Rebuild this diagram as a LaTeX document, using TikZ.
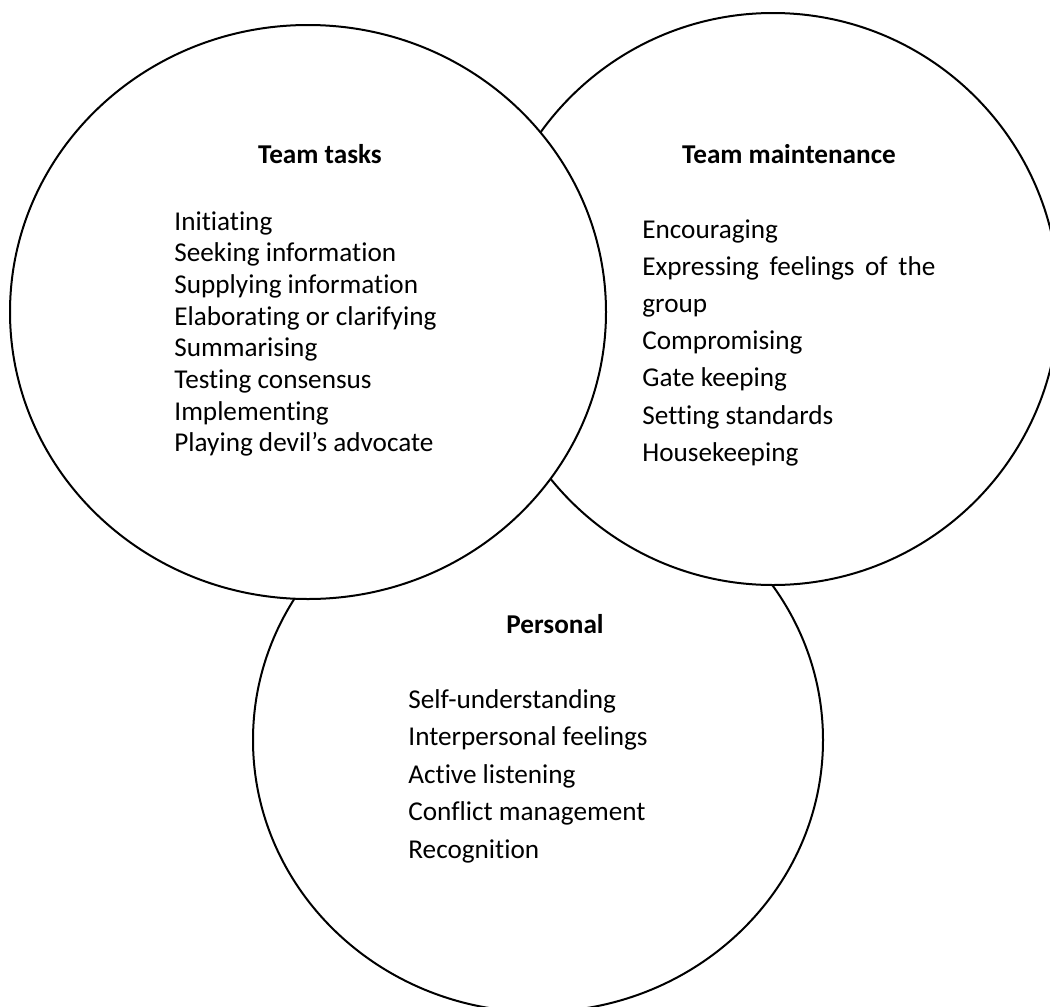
\documentclass[tikz,border=0pt]{standalone}
\usepackage{fontspec}
\setmainfont{Carlito}[Ligatures=NoCommon]
\usetikzlibrary{shapes.geometric}
\begin{document}
\begin{tikzpicture}[x=0.5pt,y=-0.5pt,
  blob/.style={draw=black, fill=white, line width=1pt, ellipse, inner sep=0pt},
  head/.style={anchor=base, inner sep=0pt, font=\fontsize{13.6pt}{16pt}\selectfont\bfseries},
  item/.style={anchor=base west, inner sep=0pt, font=\fontsize{13.6pt}{16pt}\selectfont}]
\useasboundingbox (0,0) rectangle (1050,1007);
\clip (0,0) rectangle (1050,1007);
\fill[white] (0,0) rectangle (1050,1007);

% three overlapping areas, back to front
\node[blob, minimum width=285pt, minimum height=272pt] (personal) at (538,740) {};
\node[blob, minimum width=286pt, minimum height=286pt] (maint) at (773,299) {};
\node[blob, minimum width=298pt, minimum height=287pt] (tasks) at (308,312) {};

% headings
\node[head] (hTasks) at (320,163) {Team tasks};
\node[head] (hMaint) at (789,163) {Team maintenance};
\node[head] (hPers) at (555,633) {Personal};

% team tasks list
\foreach [count=\i] \s in {Initiating, Seeking information, Supplying information,
  Elaborating or clarifying, Summarising, Testing consensus, Implementing,
  Playing devil’s advocate}
  \node[item] (task\i) at (174,{230+31.7*(\i-1)}) {\s};

% team maintenance list
\node[item] (m1) at (642,238) {Encouraging};
\node[item] (m2) at (642,275.2) {\makebox[146.5pt][s]{Expressing feelings of the}};
\node[item] (m3) at (642,312.4) {group};
\node[item] (m4) at (642,349.6) {Compromising};
\node[item] (m5) at (642,386.8) {Gate keeping};
\node[item] (m6) at (642,424) {Setting standards};
\node[item] (m7) at (642,461.2) {Housekeeping};

% personal list
\foreach [count=\i] \s in {Self-understanding, Interpersonal feelings,
  Active listening, Conflict management, Recognition}
  \node[item] (p\i) at (408,{708+37.5*(\i-1)}) {\s};
\end{tikzpicture}
\end{document}
